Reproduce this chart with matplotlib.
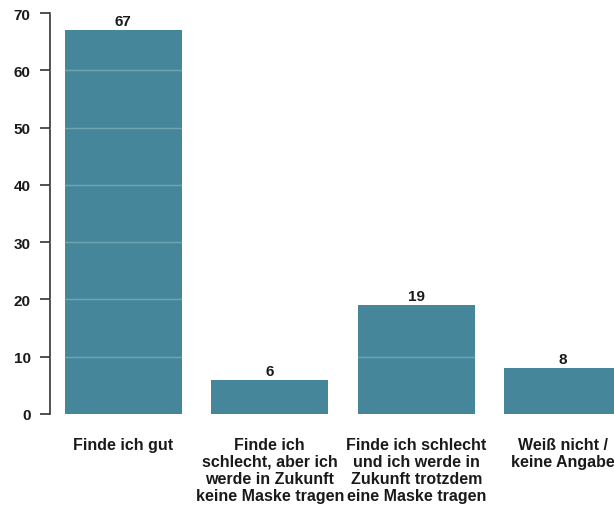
import matplotlib.pyplot as plt
import numpy as np

plt.rcParams["font.family"] = ["Liberation Sans", "DejaVu Sans"]

categories = [
    "Finde ich gut",
    "Finde ich\nschlecht, aber ich\nwerde in Zukunft\nkeine Maske tragen",
    "Finde ich schlecht\nund ich werde in\nZukunft trotzdem\neine Maske tragen",
    "Weiß nicht /\nkeine Angabe",
]
values = [67, 6, 19, 8]
yticks = [0, 10, 20, 30, 40, 50, 60, 70]

BAR = "#45869b"
TXT = "#1a1a1a"
FS = 11.5

fig = plt.figure(figsize=(6.14, 5.10), dpi=100)
# axes run past the right edge so the last bar is clipped, as in the reference
ax = fig.add_axes([50 / 614, 95 / 510, 586 / 614, 401 / 510])

x = np.arange(len(categories))
ax.bar(x, values, width=0.8, color=BAR, zorder=2)
for yv in yticks[1:]:
    ax.axhline(yv, color="white", alpha=0.25, lw=1, zorder=3)

for xi, v in zip(x, values):
    ax.annotate(str(v), (xi, v), xytext=(0, 1.5), textcoords="offset points",
                ha="center", va="bottom", fontsize=FS - 0.5, fontweight="bold", color=TXT)

ax.set_xlim(-0.5, 3.5)
ax.set_ylim(0, 70)
ax.set_yticks(yticks)
ax.set_xticks(x)
ax.set_xticklabels(categories, fontsize=FS, fontweight="bold", color=TXT,
                   linespacing=1.17)
ax.tick_params(axis="x", length=0, pad=16.5)
ax.tick_params(axis="y", length=7, width=1.2, color="#333333", labelsize=FS - 0.5,
               labelcolor=TXT, pad=7)
for lbl in ax.get_yticklabels():
    lbl.set_fontweight("bold")

for s in ("top", "right", "bottom"):
    ax.spines[s].set_visible(False)
ax.spines["left"].set_color("#333333")
ax.spines["left"].set_linewidth(1.2)

fig.savefig("out.png", dpi=100)
